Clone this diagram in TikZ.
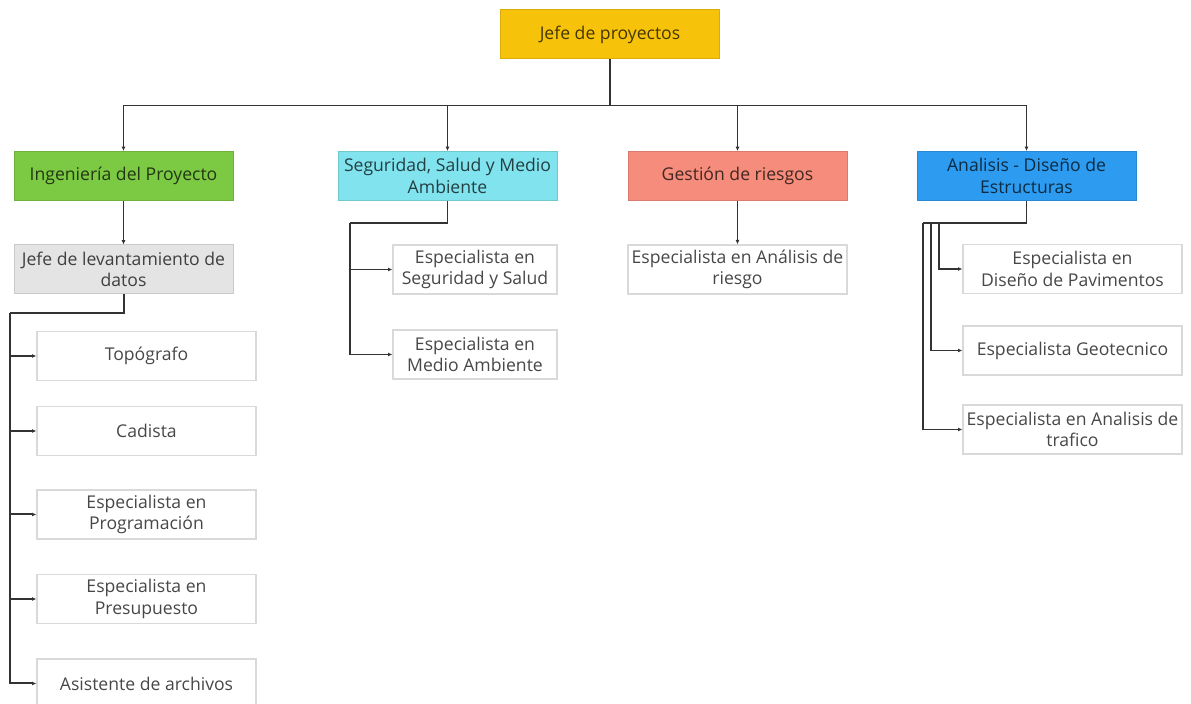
\documentclass[tikz,border=0pt]{standalone}
\usepackage{fontspec}
\setmainfont{Open Sans}
\usepackage{tikz}
\usetikzlibrary{arrows.meta,positioning}
\definecolor{cjefe}{HTML}{F7C30A}
\definecolor{cing}{HTML}{7CC943}
\definecolor{cseg}{HTML}{80E3EE}
\definecolor{cges}{HTML}{F58C7C}
\definecolor{cana}{HTML}{2D9CF0}
\definecolor{clev}{HTML}{E4E4E4}
\definecolor{cline}{HTML}{333333}

\begin{document}
\begin{tikzpicture}[x=0.5pt,y=-0.5pt,
    every node/.style={font=\fontsize{8.8}{10.85}\selectfont, align=center, text=black, text opacity=0.72, inner sep=0pt},
    caja/.style={draw=#1!88!black, fill=#1, line width=0.5pt, minimum width=109.5pt, minimum height=24.5pt},
    hoja/.style={draw=black!15, fill=white, line width=0.6pt, minimum width=109.5pt, minimum height=24.5pt},
    link/.style={draw=cline, line width=0.65pt},
    arr/.style={link, -{Latex[length=2.2pt,width=2pt]}}]
\useasboundingbox (0,0) rectangle (1191,704);

\node[caja=cjefe] (jefe) at (610,34.5) {Jefe de proyectos};

\node[caja=cing] (ing) at (123.5,176) {Ingeniería del Proyecto};
\node[caja=cseg] (seg) at (447.5,176) {Seguridad, Salud y Medio\\Ambiente};
\node[caja=cges] (ges) at (737.5,176) {Gestión de riesgos};
\node[caja=cana] (ana) at (1026.5,176) {Analisis - Diseño de\\Estructuras};

\node[caja=clev] (lev) at (123.5,269.5) {Jefe de levantamiento de\\datos};
\node[hoja, minimum width=82pt] (segsal) at (475,269.5) {Especialista en\\Seguridad y Salud};
\node[hoja, minimum width=82pt] (medamb) at (475,354.5) {Especialista en\\Medio Ambiente};
\node[hoja] (riesgo) at (737.5,269.5) {Especialista en Análisis de\\riesgo};

\node[hoja] (pav) at (1072.5,269) {Especialista en\\Diseño de Pavimentos};
\node[hoja] (geo) at (1072.5,350.5) {Especialista Geotecnico};
\node[hoja] (traf) at (1072.5,429.5) {Especialista en Analisis de\\trafico};

\node[hoja] (topo) at (146.5,356) {Topógrafo};
\node[hoja] (cad) at (146.5,431) {Cadista};
\node[hoja] (prog) at (146.5,514.5) {Especialista en\\Programación};
\node[hoja] (pres) at (146.5,599) {Especialista en\\Presupuesto};
\node[hoja] (asis) at (146.5,683.5) {Asistente de archivos};

\coordinate (levbus) at (10,313);
\coordinate (segbus) at (350,223);
\coordinate (anaA) at (939,223);
\coordinate (anaB) at (931,223);
\coordinate (anaC) at (923,223);

\draw[arr] (jefe.south) -- ++(0,46) -| (ing.north);
\draw[arr] (jefe.south) -- ++(0,46) -| (seg.north);
\draw[arr] (jefe.south) -- ++(0,46) -| (ges.north);
\draw[arr] (jefe.south) -- ++(0,46) -| (ana.north);

\draw[arr] (ing.south) -- (lev.north);
\draw[arr] (ges.south) -- (riesgo.north);

\draw[link] (seg.south) |- (segbus);
\draw[arr] (segbus) |- (segsal.west);
\draw[arr] (segbus) |- (medamb.west);

\draw[link] (ana.south) |- (anaC);
\draw[arr] (anaA) |- (pav.west);
\draw[arr] (anaB) |- (geo.west);
\draw[arr] (anaC) |- (traf.west);

\draw[link, line width=1pt] (lev.south) |- (levbus);
\draw[arr, line width=1pt] (levbus) |- (topo.west);
\draw[arr, line width=1pt] (levbus) |- (cad.west);
\draw[arr, line width=1pt] (levbus) |- (prog.west);
\draw[arr, line width=1pt] (levbus) |- (pres.west);
\draw[arr, line width=1pt] (levbus) |- (asis.west);
\end{tikzpicture}
\end{document}
